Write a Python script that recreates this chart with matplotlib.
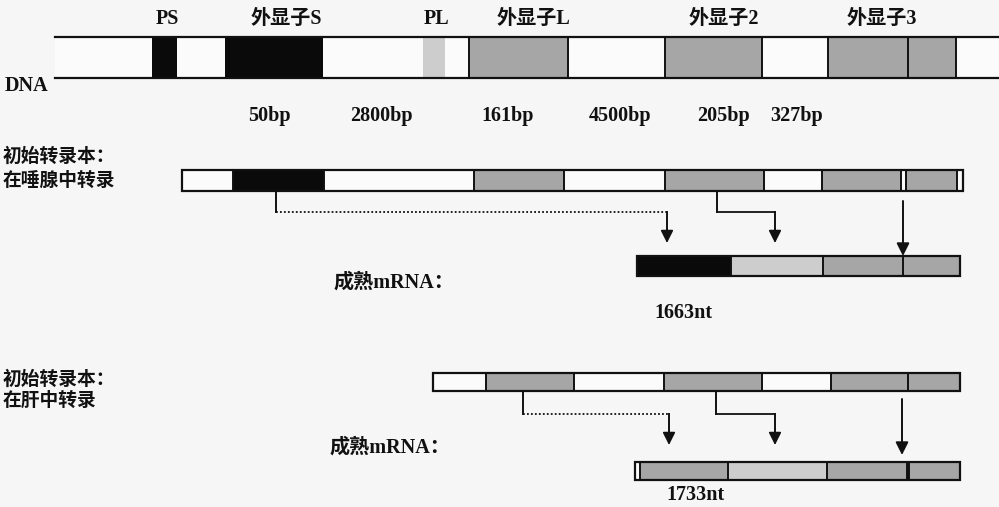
import matplotlib
matplotlib.use('Agg')
import matplotlib.pyplot as plt
from matplotlib.patches import Rectangle

plt.rcParams['font.family'] = ['Liberation Serif', 'Noto Sans CJK SC']

# colours used for the exon fills
COLORS = {'w': '#fbfbfb', 'k': '#0a0a0a', 'g': '#a6a6a6', 'l': '#cdcdcd'}

# DNA: segment edges along the gene and the fill of each segment
dna_edges = [55, 152, 177, 225, 323, 423, 445, 469, 568, 665, 762, 828, 908, 956, 999]
dna_fills = ['w', 'k', 'w', 'k', 'w', 'l', 'w', 'g', 'w', 'g', 'w', 'g', 'g', 'w']
dna_borders = [469, 568, 665, 762, 828, 908, 956]
exon_names = ['PS', '外显子S', 'PL', '外显子L', '外显子2', '外显子3']
exon_name_x = [167, 286, 437, 533, 724, 882]
bp_labels = ['50bp', '2800bp', '161bp', '4500bp', '205bp', '327bp']
bp_x = [269, 381, 508, 620, 724, 797]

# primary transcript in salivary gland and its mature mRNA
sal_edges = [182, 233, 324, 474, 564, 665, 764, 822, 901, 906, 957, 963]
sal_fills = ['w', 'k', 'w', 'g', 'w', 'g', 'w', 'g', 'w', 'g', 'w']
sal_mrna_edges = [637, 731, 823, 903, 960]
sal_mrna_fills = ['k', 'l', 'g', 'g']
sal_length = '1663nt'

# primary transcript in liver and its mature mRNA
liv_edges = [433, 486, 574, 664, 762, 831, 908, 960]
liv_fills = ['w', 'g', 'w', 'g', 'w', 'g', 'g']
liv_mrna_edges = [635, 640, 728, 827, 907, 909, 960]
liv_mrna_fills = ['w', 'g', 'l', 'g', 'k', 'g']
liv_length = '1733nt'

# splice connectors: (start x, end x, dotted)
sal_splices = [(276, 667, True), (717, 775, False)]
liv_splices = [(523, 669, True), (716, 775, False)]
sal_poly_x = 903
liv_poly_x = 902


def draw_bar(ax, edges, fills, top, bottom, outline=True):
    for x0, x1, f in zip(edges[:-1], edges[1:], fills):
        ax.add_patch(Rectangle((x0, top), x1 - x0, bottom - top,
                               facecolor=COLORS[f], edgecolor='none'))
    if outline:
        ax.add_patch(Rectangle((edges[0], top), edges[-1] - edges[0], bottom - top,
                               facecolor='none', edgecolor='#111111', lw=1.6))
        for x in edges[1:-1]:
            ax.plot([x, x], [top, bottom], color='#111111', lw=1.4)


def draw_splices(ax, splices, y0, y_mid, y_end):
    for x0, x1, dotted in splices:
        ax.plot([x0, x0], [y0, y_mid], color='#111111', lw=1.4)
        ax.plot([x0, x1], [y_mid, y_mid], color='#111111', lw=1.3,
                linestyle=(0, (1, 1.2)) if dotted else '-')
        ax.plot([x1, x1], [y_mid, y_end - 12], color='#111111', lw=1.4)
        ax.annotate('', xy=(x1, y_end), xytext=(x1, y_end - 14),
                    arrowprops=dict(arrowstyle='-|>', color='#111111', lw=1.2,
                                    mutation_scale=19, shrinkA=0, shrinkB=0))


def draw_arrow(ax, x, y0, y1):
    ax.annotate('', xy=(x, y1), xytext=(x, y0),
                arrowprops=dict(arrowstyle='-|>', color='#111111', lw=1.4,
                                mutation_scale=19, shrinkA=0, shrinkB=0))


fig = plt.figure(figsize=(9.99, 5.07), dpi=100, facecolor='#f6f6f6')
ax = fig.add_axes([0, 0, 1, 1])
ax.set_xlim(0, 999)
ax.set_ylim(507, 0)
ax.axis('off')

txt = dict(fontsize=14.5, fontweight='bold', color='#111111')
cjk = dict(fontsize=13.5, fontweight='bold', color='#111111')

# DNA row
draw_bar(ax, dna_edges, dna_fills, 37, 78, outline=False)
ax.plot([dna_edges[0], dna_edges[-1]], [37, 37], color='#111111', lw=1.6)
ax.plot([dna_edges[0], dna_edges[-1]], [78, 78], color='#111111', lw=1.6)
for x in dna_borders:
    ax.plot([x, x], [37, 78], color='#111111', lw=1.4)
ax.text(5, 86, 'DNA', ha='left', va='center', **txt)
for name, x in zip(exon_names, exon_name_x):
    ax.text(x, 19, name, ha='center', va='center', **txt)
for lab, x in zip(bp_labels, bp_x):
    ax.text(x, 116, lab, ha='center', va='center', **txt)

# salivary gland
ax.text(3, 157, '初始转录本：', ha='left', va='center', **cjk)
ax.text(3, 181, '在唾腺中转录', ha='left', va='center', **cjk)
draw_bar(ax, sal_edges, sal_fills, 170, 191)
draw_splices(ax, sal_splices, 191, 212, 243)
draw_arrow(ax, sal_poly_x, 201, 256)
draw_bar(ax, sal_mrna_edges, sal_mrna_fills, 256, 276)
ax.text(333, 283, '成熟mRNA：', ha='left', va='center', **txt)
ax.text(683, 313, sal_length, ha='center', va='center', **txt)

# liver
ax.text(3, 380, '初始转录本：', ha='left', va='center', **cjk)
ax.text(3, 401, '在肝中转录', ha='left', va='center', **cjk)
draw_bar(ax, liv_edges, liv_fills, 373, 391)
draw_splices(ax, liv_splices, 391, 414, 445)
draw_arrow(ax, liv_poly_x, 399, 455)
draw_bar(ax, liv_mrna_edges, liv_mrna_fills, 462, 480)
ax.text(330, 448, '成熟mRNA：', ha='left', va='center', **txt)
ax.text(695, 495, liv_length, ha='center', va='center', **txt)

fig.savefig('out.png', dpi=100, facecolor=fig.get_facecolor())
